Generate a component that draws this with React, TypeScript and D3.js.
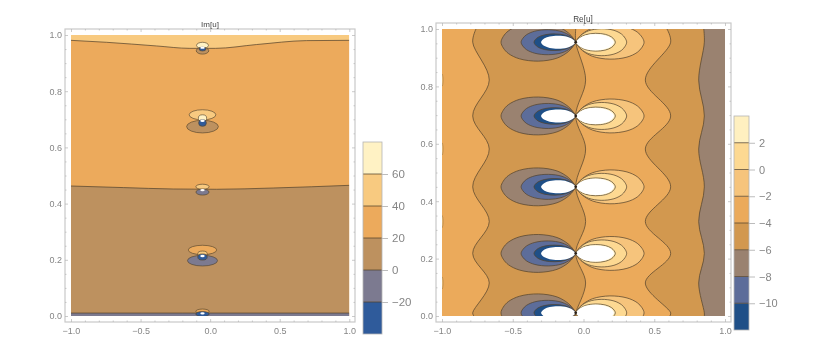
import { useEffect, useRef } from 'react'
import * as d3 from 'd3'

type Pt = [number, number]

const W = 830
const H = 355

// contour levels and the colours between them
const imLevels = [-20, 0, 20, 40, 60]
const imColors = ['#2f5b9b', '#7c7a90', '#bd915f', '#ecaa5c', '#f8ca80', '#fff2c4']
const imLegendRange: Pt = [-40, 80]
const reLevels = [-10, -8, -6, -4, -2, 0, 2]
const reColors = ['#1f4f87', '#5d6d9a', '#9a8270', '#d2984f', '#ebaa5b', '#f6c47c', '#fdd992', '#fff0c0']
const reLegendRange: Pt = [-12, 4]

const xTicks = [-1, -0.5, 0, 0.5, 1]
const yTicks = [0, 0.2, 0.4, 0.6, 0.8, 1]
const xMinor = [-0.9, -0.8, -0.7, -0.6, -0.4, -0.3, -0.2, -0.1, 0.1, 0.2, 0.3, 0.4, 0.6, 0.7, 0.8, 0.9]
const yMinor = [0.05, 0.1, 0.15, 0.25, 0.3, 0.35, 0.45, 0.5, 0.55, 0.65, 0.7, 0.75, 0.85, 0.9, 0.95]

// Im[u]: level curves across the panel, and the value of the band below each
const imTopCurve: Pt[] = [[-1, 0.981], [-0.744, 0.974], [-0.385, 0.961], [-0.146, 0.9525], [0.038, 0.9525], [0.333, 0.966], [0.692, 0.98], [1, 0.981]]
const imMidCurve: Pt[] = [[-1, 0.4626], [-0.624, 0.457], [-0.265, 0.452], [0.046, 0.451], [0.453, 0.4555], [1, 0.465]]
const imLowCurve: Pt[] = [[-1, 0.0105], [-0.2, 0.0105], [0.1, 0.0105], [1, 0.0105]]
const imBands: { curve: Pt[]; value: number }[] = [
  { curve: imTopCurve, value: 30 },
  { curve: imMidCurve, value: 10 },
  { curve: imLowCurve, value: -10 },
]

// Im[u]: closed level sets around the poles (x, y, half width, half height, value)
const imSpots: [number, number, number, number, number][] = [
  [-0.055, 0.963, 0.043, 0.011, 70],
  [-0.055, 0.944, 0.045, 0.012, 10],
  [-0.055, 0.95, 0.025, 0.007, -30],
  [-0.055, 0.716, 0.096, 0.018, 50],
  [-0.055, 0.674, 0.114, 0.0225, 10],
  [-0.055, 0.704, 0.03, 0.012, 70],
  [-0.055, 0.687, 0.028, 0.012, -30],
  [-0.055, 0.46, 0.048, 0.009, 50],
  [-0.055, 0.441, 0.047, 0.0107, -10],
  [-0.055, 0.235, 0.102, 0.0167, 30],
  [-0.055, 0.197, 0.108, 0.019, -10],
  [-0.055, 0.222, 0.034, 0.009, 50],
  [-0.055, 0.21, 0.034, 0.011, -30],
  [-0.055, 0.0167, 0.048, 0.008, 30],
  [-0.055, 0.007, 0.048, 0.009, -30],
]
const imHoles: Pt[] = [[-0.055, 0.955], [-0.055, 0.695], [-0.055, 0.448], [-0.055, 0.2135], [-0.055, 0.0095]]

// Re[u]: vertical level curves, read at the pole rows and the necks between them
const reCurveA: Pt[] = [[-0.76, 1], [-0.783, 0.954], [-0.666, 0.822], [-0.783, 0.697], [-0.666, 0.582], [-0.783, 0.45], [-0.666, 0.329], [-0.783, 0.218], [-0.666, 0.115], [-0.783, 0.011], [-0.775, 0]]
const reCurveB: Pt[] = [[-0.055, 1], [-0.055, 0.954], [0.015, 0.822], [-0.055, 0.697], [0.015, 0.582], [-0.055, 0.45], [0.015, 0.329], [-0.055, 0.218], [0.015, 0.115], [-0.055, 0.011], [-0.055, 0]]
const reCurveC: Pt[] = [[0.59, 1], [0.616, 0.954], [0.437, 0.822], [0.616, 0.697], [0.437, 0.582], [0.616, 0.45], [0.437, 0.329], [0.616, 0.218], [0.437, 0.115], [0.616, 0.011], [0.61, 0]]
const reCurveD: Pt[] = [[0.85, 1], [0.854, 0.954], [0.814, 0.822], [0.854, 0.697], [0.814, 0.582], [0.854, 0.45], [0.814, 0.329], [0.854, 0.218], [0.814, 0.115], [0.854, 0.011], [0.854, 0]]
const reBands: { curve: Pt[]; value: number }[] = [
  { curve: reCurveA, value: -5 },
  { curve: reCurveB, value: -3 },
  { curve: reCurveC, value: -5 },
  { curve: reCurveD, value: -7 },
]
const reBase = -3
const reEdgeSpots = [0.822, 0.582, 0.329, 0.115]

// Re[u]: pole rows and lobes that leave them (far end x, half height, value)
const rePoleX = -0.055
const rePoleRows = [0.954, 0.697, 0.45, 0.218, 0.011]
const reLobes: [number, number, number][] = [
  [-0.583, 0.066, -7],
  [-0.441, 0.0436, -9],
  [-0.35, 0.029, -11],
  [0.428, 0.059, -1],
  [0.305, 0.047, 1],
  [0.225, 0.031, 3],
]
const reHoles: [number, number][] = [
  [-0.3, 0.0227],
  [0.215, 0.028],
]
// outline of a lobe: share of its length from the pole, share of its half height
const lobeProfile: Pt[] = [[0, 0], [0.03, 0.2], [0.1, 0.5], [0.25, 0.84], [0.5, 1], [0.75, 0.88], [0.9, 0.6], [0.97, 0.3], [1, 0]]

const LINE = '#54432c'
const GREY = '#c9c9c9'
const TEXT = '#858585'
const FONT = '"Liberation Sans", sans-serif'

const minus = (v: number, digits: number) => {
  const s = Math.abs(v).toFixed(digits)
  return v < 0 ? `\u2212${s}` : s
}

function drawFrame(svg: any, frame: { x0: number; x1: number; y0: number; y1: number }, x: any, y: any) {
  const g = svg.append('g')
  g.append('rect').attr('x', frame.x0).attr('y', frame.y0)
    .attr('width', frame.x1 - frame.x0).attr('height', frame.y1 - frame.y0)
    .attr('fill', 'none').attr('stroke', GREY).attr('stroke-width', 1.2)

  const style = (ax: any) => {
    ax.select('.domain').remove()
    ax.selectAll('.tick line').attr('stroke', '#b5b5b5').attr('stroke-width', 0.7)
    ax.selectAll('text').attr('fill', TEXT).attr('font-size', 9).attr('font-family', FONT)
  }
  g.append('g').attr('transform', `translate(0,${frame.y1})`)
    .call(d3.axisBottom(x).tickValues(xTicks).tickSize(-3).tickPadding(6).tickFormat((d: any) => minus(d, 1))).call(style)
  g.append('g').attr('transform', `translate(0,${frame.y0})`)
    .call(d3.axisTop(x).tickValues(xTicks).tickSize(-3).tickFormat(() => '')).call(style)
  g.append('g').attr('transform', `translate(${frame.x0},0)`)
    .call(d3.axisLeft(y).tickValues(yTicks).tickSize(-3).tickPadding(3).tickFormat((d: any) => d.toFixed(1))).call(style)
  g.append('g').attr('transform', `translate(${frame.x1},0)`)
    .call(d3.axisRight(y).tickValues(yTicks).tickSize(-3).tickFormat(() => '')).call(style)
  // minor ticks
  g.append('g').attr('transform', `translate(0,${frame.y1})`)
    .call(d3.axisBottom(x).tickValues(xMinor).tickSize(-1.5).tickFormat(() => '')).call(style)
  g.append('g').attr('transform', `translate(0,${frame.y0})`)
    .call(d3.axisTop(x).tickValues(xMinor).tickSize(-1.5).tickFormat(() => '')).call(style)
  g.append('g').attr('transform', `translate(${frame.x0},0)`)
    .call(d3.axisLeft(y).tickValues(yMinor).tickSize(-1.5).tickFormat(() => '')).call(style)
  g.append('g').attr('transform', `translate(${frame.x1},0)`)
    .call(d3.axisRight(y).tickValues(yMinor).tickSize(-1.5).tickFormat(() => '')).call(style)
}

function drawLegend(svg: any, box: { x0: number; x1: number }, scale: any, levels: number[], colors: string[], range: Pt, fontSize: number) {
  const g = svg.append('g')
  const edges = [range[0], ...levels, range[1]]
  d3.pairs(edges).forEach(([a, b], i) => {
    g.append('rect').attr('x', box.x0).attr('width', box.x1 - box.x0)
      .attr('y', scale(b)).attr('height', scale(a) - scale(b)).attr('fill', colors[i])
  })
  levels.forEach((lv) => {
    g.append('line').attr('x1', box.x0).attr('x2', box.x1).attr('y1', scale(lv)).attr('y2', scale(lv))
      .attr('stroke', LINE).attr('stroke-opacity', 0.75).attr('stroke-width', 1)
  })
  g.append('rect').attr('x', box.x0).attr('width', box.x1 - box.x0)
    .attr('y', scale(range[1])).attr('height', scale(range[0]) - scale(range[1]))
    .attr('fill', 'none').attr('stroke', '#b4b4b4').attr('stroke-width', 0.8)
  g.append('g').attr('transform', `translate(${box.x1},0)`)
    .call(d3.axisRight(scale).tickValues(levels).tickSize(6).tickPadding(4).tickFormat((d: any) => minus(d, 0)))
    .call((ax: any) => ax.select('.domain').remove())
    .call((ax: any) => ax.selectAll('.tick line').attr('stroke', '#bcbcbc'))
    .call((ax: any) => ax.selectAll('text').attr('fill', TEXT).attr('font-size', fontSize).attr('font-family', FONT))
}

function drawIm(svg: any) {
  const frame = { x0: 65, x1: 355, y0: 29, y1: 322 }
  const x = d3.scaleLinear().domain([-1, 1]).range([71, 349.3])
  const y = d3.scaleLinear().domain([0, 1]).range([316, 35])
  const color = d3.scaleThreshold<number, string>().domain(imLevels).range(imColors)

  svg.append('clipPath').attr('id', 'im-clip').append('rect')
    .attr('x', x(-1)).attr('y', y(1)).attr('width', x(1) - x(-1)).attr('height', y(0) - y(1))
  const plot = svg.append('g').attr('clip-path', 'url(#im-clip)')
  plot.append('rect').attr('x', x(-1)).attr('y', y(1)).attr('width', x(1) - x(-1)).attr('height', y(0) - y(1)).attr('fill', color(50))

  const area = d3.area<Pt>().x((d) => x(d[0])).y0(y(0)).y1((d) => y(d[1])).curve(d3.curveMonotoneX)
  const line = d3.line<Pt>().x((d) => x(d[0])).y((d) => y(d[1])).curve(d3.curveMonotoneX)
  imBands.forEach((b) => {
    plot.append('path').attr('d', area(b.curve)).attr('fill', color(b.value))
    plot.append('path').attr('d', line(b.curve)).attr('fill', 'none').attr('stroke', LINE).attr('stroke-opacity', 0.8).attr('stroke-width', 0.9)
  })
  imSpots.forEach(([cx, cy, rx, ry, v]) => {
    plot.append('ellipse').attr('cx', x(cx)).attr('cy', y(cy))
      .attr('rx', x(rx) - x(0)).attr('ry', y(0) - y(ry))
      .attr('fill', color(v)).attr('stroke', LINE).attr('stroke-opacity', 0.8).attr('stroke-width', 0.8)
  })
  imHoles.forEach(([cx, cy]) => {
    plot.append('ellipse').attr('cx', x(cx)).attr('cy', y(cy)).attr('rx', 2.2).attr('ry', 1.2).attr('fill', '#fff')
  })

  drawFrame(svg, frame, x, y)
  svg.append('text').attr('x', 210).attr('y', 26.5).attr('text-anchor', 'middle')
    .attr('font-size', 8).attr('font-family', FONT).attr('fill', '#444').text('Im[u]')

  const legend = d3.scaleLinear().domain(imLegendRange).range([334, 142])
  drawLegend(svg, { x0: 363, x1: 382 }, legend, imLevels, imColors, imLegendRange, 11.5)
}

function drawRe(svg: any) {
  const frame = { x0: 436, x1: 731, y0: 23, y1: 322 }
  const x = d3.scaleLinear().domain([-1, 1]).range([442, 725])
  const y = d3.scaleLinear().domain([0, 1]).range([316, 29])
  const color = d3.scaleThreshold<number, string>().domain(reLevels).range(reColors)

  svg.append('clipPath').attr('id', 're-clip').append('rect')
    .attr('x', x(-1)).attr('y', y(1)).attr('width', x(1) - x(-1)).attr('height', y(0) - y(1))
  const plot = svg.append('g').attr('clip-path', 'url(#re-clip)')
  plot.append('rect').attr('x', x(-1)).attr('y', y(1)).attr('width', x(1) - x(-1)).attr('height', y(0) - y(1)).attr('fill', color(reBase))

  reEdgeSpots.forEach((cy) => {
    plot.append('ellipse').attr('cx', x(-1)).attr('cy', y(cy)).attr('rx', 1).attr('ry', 6)
      .attr('fill', color(-1)).attr('stroke', LINE).attr('stroke-opacity', 0.5).attr('stroke-width', 0.6)
  })

  const area = d3.area<Pt>().y((d) => y(d[1])).x0((d) => x(d[0])).x1(x(1)).curve(d3.curveCatmullRom)
  const line = d3.line<Pt>().x((d) => x(d[0])).y((d) => y(d[1])).curve(d3.curveCatmullRom)
  reBands.forEach((b) => {
    plot.append('path').attr('d', area(b.curve)).attr('fill', color(b.value))
    plot.append('path').attr('d', line(b.curve)).attr('fill', 'none').attr('stroke', LINE).attr('stroke-opacity', 0.8).attr('stroke-width', 0.9)
  })

  const lobePath = (row: number, end: number, half: number) => {
    const upper: Pt[] = lobeProfile.map(([t, h]) => [rePoleX + (end - rePoleX) * t, row + half * h])
    const lower: Pt[] = lobeProfile.slice(1, -1).reverse().map(([t, h]) => [rePoleX + (end - rePoleX) * t, row - half * h])
    return d3.line<Pt>().x((d) => x(d[0])).y((d) => y(d[1])).curve(d3.curveCatmullRomClosed)([...upper, ...lower])
  }
  rePoleRows.forEach((row) => {
    reLobes.forEach(([end, half, v]) => {
      plot.append('path').attr('d', lobePath(row, end, half)).attr('fill', color(v))
        .attr('stroke', LINE).attr('stroke-opacity', 0.8).attr('stroke-width', 0.9)
    })
    reHoles.forEach(([end, half]) => {
      plot.append('path').attr('d', lobePath(row, end, half)).attr('fill', '#fff')
    })
    plot.append('circle').attr('cx', x(rePoleX)).attr('cy', y(row)).attr('r', 1.4).attr('fill', '#2a2118')
  })

  drawFrame(svg, frame, x, y)
  svg.append('text').attr('x', 583).attr('y', 21.5).attr('text-anchor', 'middle')
    .attr('font-size', 8.2).attr('font-family', FONT).attr('fill', '#444').text('Re[u]')

  const legend = d3.scaleLinear().domain(reLegendRange).range([330, 116])
  drawLegend(svg, { x0: 734, x1: 749 }, legend, reLevels, reColors, reLegendRange, 11)
}

export default function App() {
  const svgRef = useRef<SVGSVGElement | null>(null)

  useEffect(() => {
    const svg = d3.select(svgRef.current)
    svg.selectAll('*').remove()
    svg.attr('width', W).attr('height', H)
    drawIm(svg)
    drawRe(svg)
    return () => { svg.selectAll('*').remove() }
  }, [])

  return (
    <svg
      ref={svgRef}
      style={{ position: 'absolute', left: 0, top: 0, background: '#fff', filter: 'blur(0.45px)' }}
    />
  )
}
